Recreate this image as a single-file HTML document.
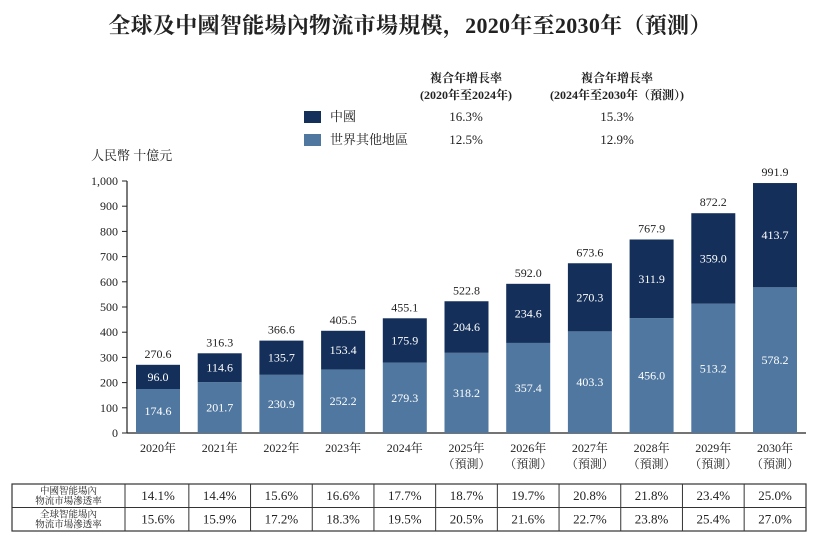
<!DOCTYPE html>
<html><head><meta charset="utf-8"><style>
body{margin:0;background:#fff;}
svg text{font-family:"Liberation Serif","Noto Serif CJK SC","Noto Sans CJK TC",serif;fill:#222;}
</style></head><body>
<svg id="c" width="821" height="551" xmlns="http://www.w3.org/2000/svg">
<text x="410" y="33" text-anchor="middle" font-size="22" font-weight="bold" letter-spacing="0.3">全球及中國智能場內物流市場規模，2020年至2030年（預測）</text>
<g font-size="12" font-weight="bold">
<text x="466" y="82" text-anchor="middle">複合年增長率</text>
<text x="466" y="99" text-anchor="middle">(2020年至2024年)</text>
<text x="617" y="82" text-anchor="middle">複合年增長率</text>
<text x="617" y="99" text-anchor="middle">(2024年至2030年（預測）)</text>
</g>
<g font-size="13">
<rect x="304" y="111" width="17" height="12" fill="#14305a"/>
<text x="330" y="121">中國</text>
<rect x="304" y="134" width="17" height="12" fill="#4f77a0"/>
<text x="330" y="144">世界其他地區</text>
<text x="466" y="121" text-anchor="middle">16.3%</text>
<text x="466" y="144" text-anchor="middle">12.5%</text>
<text x="617" y="121" text-anchor="middle">15.3%</text>
<text x="617" y="144" text-anchor="middle">12.9%</text>
</g>
<text x="91" y="160" font-size="13">人民幣 十億元</text>
<g id="axes"></g><g id="bars"></g><g id="table"></g>
</svg>
<script>
const years=["2020年","2021年","2022年","2023年","2024年","2025年","2026年","2027年","2028年","2029年","2030年"];
const forecast=[false,false,false,false,false,true,true,true,true,true,true];
const china=[96.0,114.6,135.7,153.4,175.9,204.6,234.6,270.3,311.9,359.0,413.7];
const world=[174.6,201.7,230.9,252.2,279.3,318.2,357.4,403.3,456.0,513.2,578.2];
const totals=[270.6,316.3,366.6,405.5,455.1,522.8,592.0,673.6,767.9,872.2,991.9];
const yTicks=[0,100,200,300,400,500,600,700,800,900,1000];
const yTickLabels=["0","100","200","300","400","500","600","700","800","900","1,000"];
const chinaPen=["14.1%","14.4%","15.6%","16.6%","17.7%","18.7%","19.7%","20.8%","21.8%","23.4%","25.0%"];
const worldPen=["15.6%","15.9%","17.2%","18.3%","19.5%","20.5%","21.6%","22.7%","23.8%","25.4%","27.0%"];
const NS="http://www.w3.org/2000/svg";
const y0=433,y1=181,xAxis=127,x0=158,step=61.7,bw=44;
const Y=v=>y0-(v/1000)*(y0-y1);
const X=i=>x0+i*step;
function mk(p,t,a,txt){const e=document.createElementNS(NS,t);for(const k in a)e.setAttribute(k,a[k]);if(txt!=null)e.textContent=txt;p.appendChild(e);return e;}
const ax=document.getElementById('axes');
let l=mk(ax,'line',{x1:xAxis,y1:y0,x2:xAxis,y2:y1,stroke:'#222','stroke-width':1.2});


l=mk(ax,'line',{x1:xAxis,y1:y0,x2:806,y2:y0,stroke:'#222','stroke-width':1.2});


yTicks.forEach((v,i)=>{
 const t=mk(ax,'line',{x1:xAxis-5,x2:xAxis,y1:Y(v),y2:Y(v),stroke:'#222'});
 
 
 const tx=mk(ax,'text',{x:xAxis-9,y:Y(v)+4,'text-anchor':'end','font-size':12},yTickLabels[i]);
 
 
});
const bg=document.getElementById('bars');
years.forEach((yr,i)=>{
 const x=X(i)-bw/2;
 const r1=mk(bg,'rect',{x:x,y:Y(world[i]),width:bw,height:y0-Y(world[i]),fill:'#4f77a0'});
 
 
 const r2=mk(bg,'rect',{x:x,y:Y(world[i]+china[i]),width:bw,height:Y(world[i])-Y(world[i]+china[i]),fill:'#14305a'});
 
 
 let t=mk(bg,'text',{x:X(i),y:(y0+Y(world[i]))/2+4,'text-anchor':'middle','font-size':12,style:'fill:#fff'},world[i].toFixed(1));
 
 
 t=mk(bg,'text',{x:X(i),y:(Y(world[i])+Y(world[i]+china[i]))/2+4,'text-anchor':'middle','font-size':12,style:'fill:#fff'},china[i].toFixed(1));
 
 
 t=mk(bg,'text',{x:X(i),y:Y(world[i]+china[i])-7,'text-anchor':'middle','font-size':12},totals[i].toFixed(1));
 
 
 t=mk(bg,'text',{x:X(i),y:452,'text-anchor':'middle','font-size':12},yr);
 
 
 if(forecast[i]){t=mk(bg,'text',{x:X(i),y:468,'text-anchor':'middle','font-size':12},'（預測）');
 
 }
});
const tg=document.getElementById('table');
const tl=12,tr=806,tc=125,ty=484,rh=23.5;
let b=mk(tg,'rect',{x:tl,y:ty,width:tr-tl,height:rh*2,fill:'none',stroke:'#333','stroke-width':1.2});


mk(tg,'line',{x1:tl,x2:tr,y1:ty+rh,y2:ty+rh,stroke:'#333'});
mk(tg,'line',{x1:tc,x2:tc,y1:ty,y2:ty+2*rh,stroke:'#333'});
const hdr=[["中國智能場內","物流市場滲透率"],["全球智能場內","物流市場滲透率"]];
hdr.forEach((h,r)=>{
 let t=mk(tg,'text',{x:(tl+tc)/2,y:ty+r*rh+10,'text-anchor':'middle','font-size':9.5},h[0]);
 
 
 t=mk(tg,'text',{x:(tl+tc)/2,y:ty+r*rh+20,'text-anchor':'middle','font-size':9.5},h[1]);
 
 
});
years.forEach((yr,i)=>{
 const right=i<years.length-1?X(i)+step/2:tr;
 if(i<years.length-1)mk(tg,'line',{x1:right,x2:right,y1:ty,y2:ty+2*rh,stroke:'#333'});
 let t=mk(tg,'text',{x:X(i),y:ty+16,'text-anchor':'middle','font-size':13},chinaPen[i]);
 
 
 t=mk(tg,'text',{x:X(i),y:ty+rh+16,'text-anchor':'middle','font-size':13},worldPen[i]);
 
 
});
</script>
</body></html>
